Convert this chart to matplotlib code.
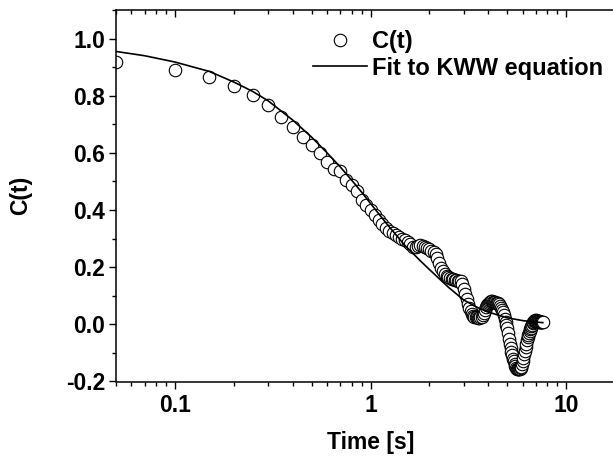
import numpy as np
import matplotlib
matplotlib.use('Agg')
import matplotlib.pyplot as plt
from matplotlib.ticker import LogLocator, FixedLocator, MultipleLocator, FormatStrFormatter, NullFormatter

plt.rcParams['font.family'] = ['Liberation Sans', 'DejaVu Sans']
plt.rcParams['font.weight'] = 'bold'

# -------------------------------------------------------------------------
# measured correlation C(t), sampled every 0.05 s
# -------------------------------------------------------------------------
TIME = [
    0.05, 0.10, 0.15, 0.20, 0.25, 0.30, 0.35, 0.40, 0.45, 0.50,
    0.55, 0.60, 0.65, 0.70, 0.75, 0.80, 0.85, 0.90, 0.95, 1.00,
    1.05, 1.10, 1.15, 1.20, 1.25, 1.30, 1.35, 1.40, 1.45, 1.50,
    1.55, 1.60, 1.65, 1.70, 1.75, 1.80, 1.85, 1.90, 1.95, 2.00,
    2.05, 2.10, 2.15, 2.20, 2.25, 2.30, 2.35, 2.40, 2.45, 2.50,
    2.55, 2.60, 2.65, 2.70, 2.75, 2.80, 2.85, 2.90, 2.95, 3.00,
    3.05, 3.10, 3.15, 3.20, 3.25, 3.30, 3.35, 3.40, 3.45, 3.50,
    3.55, 3.60, 3.65, 3.70, 3.75, 3.80, 3.85, 3.90, 3.95, 4.00,
    4.05, 4.10, 4.15, 4.20, 4.25, 4.30, 4.35, 4.40, 4.45, 4.50,
    4.55, 4.60, 4.65, 4.70, 4.75, 4.80, 4.85, 4.90, 4.95, 5.00,
    5.05, 5.10, 5.15, 5.20, 5.25, 5.30, 5.35, 5.40, 5.45, 5.50,
    5.55, 5.60, 5.65, 5.70, 5.75, 5.80, 5.85, 5.90, 5.95, 6.00,
    6.05, 6.10, 6.15, 6.20, 6.25, 6.30, 6.35, 6.40, 6.45, 6.50,
    6.55, 6.60, 6.65, 6.70, 6.75, 6.80, 6.85, 6.90, 6.95, 7.00,
    7.05, 7.10, 7.15, 7.20, 7.25, 7.30, 7.35, 7.40, 7.45, 7.50,
    7.55, 7.60,
]
C_DATA = [
    0.919, 0.891, 0.867, 0.835, 0.803, 0.769, 0.727, 0.690, 0.655, 0.629,
    0.600, 0.568, 0.542, 0.537, 0.505, 0.487, 0.468, 0.435, 0.418, 0.400,
    0.383, 0.365, 0.352, 0.336, 0.326, 0.318, 0.311, 0.305, 0.300, 0.294,
    0.288, 0.280, 0.272, 0.270, 0.274, 0.278, 0.275, 0.270, 0.266, 0.262,
    0.258, 0.254, 0.245, 0.232, 0.215, 0.198, 0.186, 0.177, 0.170, 0.166,
    0.163, 0.160, 0.158, 0.156, 0.155, 0.153, 0.152, 0.150, 0.140, 0.125,
    0.105, 0.090, 0.072, 0.058, 0.046, 0.036, 0.030, 0.027, 0.025, 0.024,
    0.023, 0.023, 0.024, 0.027, 0.032, 0.040, 0.050, 0.060, 0.066, 0.071,
    0.075, 0.078, 0.080, 0.080, 0.079, 0.078, 0.077, 0.076, 0.075, 0.074,
    0.070, 0.065, 0.058, 0.050, 0.042, 0.032, 0.020, 0.008, -0.003, -0.012,
    -0.030, -0.050, -0.068, -0.082, -0.096, -0.108, -0.120, -0.130, -0.138, -0.146,
    -0.152, -0.156, -0.158, -0.158, -0.157, -0.155, -0.152, -0.148, -0.140, -0.130,
    -0.118, -0.105, -0.092, -0.080, -0.068, -0.056, -0.046, -0.037, -0.030, -0.024,
    -0.018, -0.012, -0.006, -0.001, 0.004, 0.008, 0.011, 0.013, 0.014, 0.014,
    0.013, 0.012, 0.011, 0.010, 0.010, 0.009, 0.009, 0.008, 0.008, 0.008,
    0.008, 0.008,
]

# KWW fit curve
FIT_TIME = [0.05, 0.07, 0.10, 0.15, 0.20, 0.25, 0.30, 0.40, 0.50, 0.60,
            0.70, 0.80, 0.90, 1.00, 1.20, 1.50, 1.80, 2.00, 2.50, 3.00,
            3.50, 4.00, 5.00, 6.00, 7.00, 7.60]
FIT_C = [0.955, 0.940, 0.918, 0.885, 0.848, 0.815, 0.782, 0.715, 0.655, 0.600,
         0.551, 0.505, 0.463, 0.423, 0.355, 0.276, 0.222, 0.192, 0.130, 0.085,
         0.060, 0.043, 0.023, 0.013, 0.008, 0.006]

X_TICKS = [0.1, 1, 10]
X_TICK_LABELS = ['0.1', '1', '10']

W, H = 613, 459
fig = plt.figure(figsize=(W / 100, H / 100), dpi=100)
ax = fig.add_axes([116 / W, 1 - 381.5 / H, (625 - 116) / W, (381.5 - 10) / H])

ax.plot(TIME, C_DATA, linestyle='none', marker='o', markersize=9,
        markerfacecolor='white', markeredgecolor='black', markeredgewidth=0.8,
        label='C(t)')
ax.plot(FIT_TIME, FIT_C, color='black', linewidth=1.2, label='Fit to KWW equation')

ax.set_xscale('log')
ax.set_xlim(0.05, 20)
ax.set_ylim(-0.2, 1.1)

ax.xaxis.set_major_locator(FixedLocator(X_TICKS))
ax.set_xticklabels(X_TICK_LABELS)
ax.xaxis.set_minor_locator(LogLocator(base=10, subs=np.arange(2, 10)))
ax.xaxis.set_minor_formatter(NullFormatter())
ax.yaxis.set_major_locator(MultipleLocator(0.2))
ax.yaxis.set_minor_locator(MultipleLocator(0.1))
ax.yaxis.set_major_formatter(FormatStrFormatter('%.1f'))

for s in ['left', 'bottom', 'top']:
    ax.spines[s].set_linewidth(1.1)
ax.spines['right'].set_visible(False)

ax.tick_params(which='both', direction='out', width=1.0, labelsize=16.5)
ax.tick_params(which='major', length=5)
ax.tick_params(which='minor', length=3)
ax.tick_params(axis='x', which='both', top=True, pad=4)
ax.tick_params(axis='y', which='both', pad=3)
ax.xaxis.set_tick_params(which='both', labeltop=False)
# top ticks point inward
for t in ax.xaxis.get_major_ticks() + ax.xaxis.get_minor_ticks():
    t.tick2line.set_marker(3)

ax.set_xlabel('Time [s]', fontsize=16.5, fontweight='bold', labelpad=10)
ax.set_ylabel('C(t)', fontsize=16.5, fontweight='bold', labelpad=24)

ax.legend(loc='upper left', bbox_to_anchor=(313 / W, 1 - 30 / H),
          bbox_transform=fig.transFigure, frameon=False,
          handlelength=2.3, handletextpad=0.2, labelspacing=0.15,
          borderpad=0, borderaxespad=0, prop={'weight': 'bold', 'size': 17})

plt.savefig('out.png', dpi=100)
plt.close()
